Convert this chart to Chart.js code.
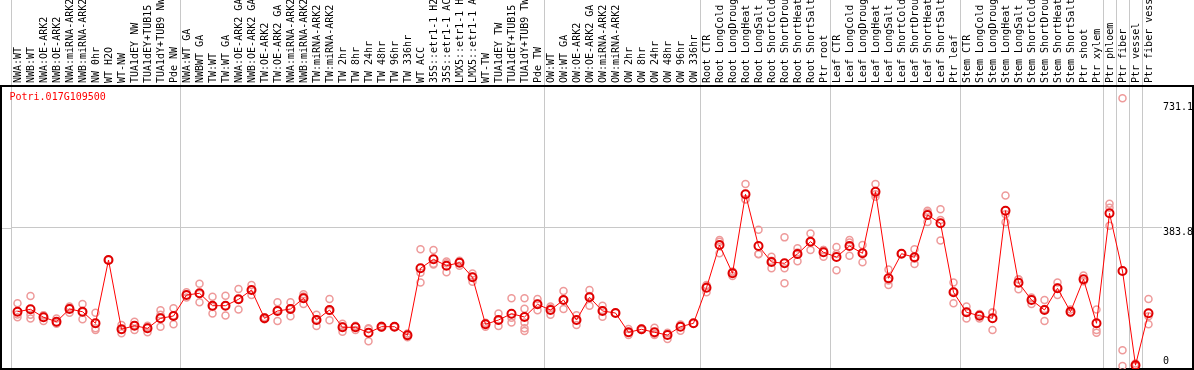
<!DOCTYPE html>
<html>
<head>
<meta charset="utf-8">
<script src="https://cdn.jsdelivr.net/npm/chart.js@4.4.1/dist/chart.umd.min.js"></script>
<style>
  html, body { margin: 0; padding: 0; background: #fff; }
  #wrap { width: 1194px; height: 370px; position: relative; }
</style>
</head>
<body>
<div id="wrap"><canvas id="exprPlot"></canvas></div>
<script>
const geneName = 'Potri.017G109500';

const sampleLabels = [
    'NWA:WT', 'NWB:WT', 'NWA:OE-ARK2', 'NWB:OE-ARK2', 'NWA:miRNA-ARK2', 'NWB:miRNA-ARK2',
    'NW 0hr', 'WT H2O', 'WT-NW', 'TUA1dEY NW', 'TUA1dEY+TUB15 NW', 'TUA1dY+TUB9 NW', 'Pde NW',
    'NWA:WT GA', 'NWBWT GA', 'TW:WT', 'TW:WT GA', 'NWA:OE-ARK2 GA', 'NWB:OE-ARK2 GA',
    'TW:OE-ARK2', 'TW:OE-ARK2 GA', 'NWA:miRNA-ARK2', 'NWB:miRNA-ARK2', 'TW:miRNA-ARK2', 'TW:miRNA-ARK2',
    'TW 2hr', 'TW 8hr', 'TW 24hr', 'TW 48hr', 'TW 96hr', 'TW 336hr', 'WT ACC',
    '35S::etr1-1 H2O', '35S::etr1-1 ACC', 'LMX5::etr1-1 H2O', 'LMX5::etr1-1 ACC',
    'WT-TW', 'TUA1dEY TW', 'TUA1dEY+TUB15 TW', 'TUA1dY+TUB9 TW', 'Pde TW',
    'OW:WT', 'OW:WT GA', 'OW:OE-ARK2', 'OW:OE-ARK2 GA', 'OW:miRNA-ARK2', 'OW:miRNA-ARK2',
    'OW 2hr', 'OW 8hr', 'OW 24hr', 'OW 48hr', 'OW 96hr', 'OW 336hr',
    'Root CTR', 'Root LongCold', 'Root LongDrought', 'Root LongHeat', 'Root LongSalt',
    'Root ShortCold', 'Root ShortDrought', 'Root ShortHeat', 'Root ShortSalt', 'Ptr root',
    'Leaf CTR', 'Leaf LongCold', 'Leaf LongDrought', 'Leaf LongHeat', 'Leaf LongSalt',
    'Leaf ShortCold', 'Leaf ShortDrought', 'Leaf ShortHeat', 'Leaf ShortSalt', 'Ptr leaf',
    'Stem CTR', 'Stem LongCold', 'Stem LongDrought', 'Stem LongHeat', 'Stem LongSalt',
    'Stem ShortCold', 'Stem ShortDrought', 'Stem ShortHeat', 'Stem ShortSalt', 'Ptr shoot',
    'Ptr xylem', 'Ptr phloem', 'Ptr fiber', 'Ptr vessel', 'Ptr fiber vessel'
];

// mean expression per sample
const meanValues = [
    150.7, 157.4, 135.2, 123.0, 158.2, 150.7, 118.5, 294.2, 101.9, 111.9, 104.6, 132.4, 138.8,
    197.1, 201.8, 167.4, 167.4, 185.1, 210.9, 132.4, 152.7, 158.2, 187.9, 127.7, 155.4, 107.4, 107.4,
    92.4, 109.1, 109.1, 85.2, 271.2, 296.1, 278.4, 286.7, 246.2, 115.7, 127.7, 145.2, 136.0, 171.2,
    155.4, 183.2, 127.7, 190.7, 152.7, 147.1, 93.5, 101.9, 93.5, 86.0, 109.1, 118.5,
    217.3, 335.8, 257.3, 476.6, 333.1, 288.7, 285.0, 310.9, 345.0, 315.6,
    302.5, 333.1, 312.8, 483.8, 243.4, 311.7, 301.7, 419.1, 396.1, 204.6,
    149.0, 139.6, 132.4, 431.0, 231.2, 183.2, 155.4, 215.7, 150.7, 240.6, 118.5,
    423.8, 263.7, 2.3, 146.3
];

// replicate values per sample
const replicateValues = [
    [174, 135, 143], [194, 142, 132], [125, 140, 141], [132, 117, 120], [165, 148, 162],
    [172, 130, 150], [148, 105, 100], [294], [114, 91, 101], [123, 100, 113],
    [112, 94, 108], [155, 142, 109], [160, 116, 140],
    [205, 197, 190], [228, 177, 200], [192, 146, 164], [195, 140, 167], [214, 157, 185],
    [225, 197, 211], [132, 130, 135], [177, 125, 156], [177, 138, 160], [199, 172, 193],
    [142, 111, 130], [186, 127, 153], [117, 95, 110], [110, 100, 112], [105, 69, 103],
    [109, 112, 106], [109, 110, 108], [80, 86, 90], [324, 259, 232], [322, 282, 284],
    [290, 260, 285], [278, 290, 292], [257, 234, 248], [109, 118, 120], [146, 111, 126],
    [188, 134, 121], [188, 159, 97, 121, 105], [186, 155, 173],
    [165, 142, 160], [208, 158, 183], [141, 114, 128], [211, 167, 194], [167, 137, 155],
    [147], [103, 86, 92], [102, 104, 100], [106, 86, 89], [75, 92, 91], [98, 114, 115], [118],
    [225, 205, 222], [350, 313, 345], [250, 262, 260], [505, 463, 462], [378, 310, 311],
    [303, 271, 292], [357, 271, 230], [327, 291, 315], [368, 322, 345], [322, 303, 322],
    [330, 266, 311], [350, 306, 343], [336, 288, 315], [505, 470, 477], [268, 225, 237],
    [312], [324, 283, 298], [431, 400, 426], [435, 405, 348], [232, 174, 207],
    [165, 132, 150], [132, 143, 144], [149, 100, 148], [473, 399, 421], [241, 213, 240],
    [172, 190, 188], [183, 125, 158], [232, 197, 218], [157, 148, 147], [251, 236, 235],
    [157, 100, 92],
    [450, 439, 389], [743, 44, 0], [7, 0, 0], [186, 116, 138]
];

const yTickValues = [0, 383.8, 731.1];
// sample indexes where a grey group separator is drawn
const groupBreaks = [0, 13, 41, 53, 63, 73, 84, 85, 86, 87, 88];

const monoFont = 'DejaVu Sans Mono';

// one dataset per replicate slot
const maxReps = Math.max(...replicateValues.map(r => r.length));
const repDatasets = [];
for (let k = 0; k < maxReps; k++) {
    repDatasets.push({
        label: 'rep' + (k + 1),
        data: replicateValues.map(r => (r[k] !== undefined ? r[k] : null)),
        showLine: false,
        pointRadius: 3.5,
        pointBorderWidth: 1.5,
        pointBorderColor: '#ee9a9a',
        pointBackgroundColor: 'rgba(0,0,0,0)',
        order: 2
    });
}

const framePlugin = {
    id: 'frame',
    beforeDatasetsDraw(chart) {
        const { ctx, chartArea, width } = chart;
        const yGrid = Math.round(chart.scales.y.getPixelForValue(383.8)) + 0.5;
        ctx.save();
        ctx.strokeStyle = '#c8c8c8';
        ctx.lineWidth = 1;
        ctx.beginPath();
        ctx.moveTo(1, yGrid);
        ctx.lineTo(chartArea.left, yGrid);
        ctx.stroke();
        ctx.strokeStyle = '#000';
        ctx.lineWidth = 2;
        ctx.strokeRect(1, chartArea.top, width - 2, chartArea.bottom - chartArea.top);
        ctx.restore();
    },
    afterDraw(chart) {
        const { ctx, chartArea } = chart;
        ctx.save();
        ctx.fillStyle = '#ff0000';
        ctx.font = '10px ' + monoFont;
        ctx.textBaseline = 'middle';
        ctx.fillText(geneName, 9.5, chartArea.top + 11);
        ctx.restore();
    }
};

const ctx = document.getElementById('exprPlot').getContext('2d');
new Chart(ctx, {
    type: 'line',
    data: {
        labels: sampleLabels,
        datasets: [
            {
                label: geneName,
                data: meanValues,
                borderColor: '#ff0000',
                borderWidth: 1,
                tension: 0,
                pointRadius: 4,
                pointBorderWidth: 2,
                pointBorderColor: '#e00000',
                pointBackgroundColor: 'rgba(0,0,0,0)',
                order: 1
            },
            ...repDatasets
        ]
    },
    options: {
        responsive: true,
        maintainAspectRatio: false,
        animation: false,
        layout: { autoPadding: false, padding: { left: 11, right: 1, top: 0, bottom: 1 } },
        plugins: {
            legend: { display: false },
            tooltip: { enabled: false }
        },
        scales: {
            x: {
                position: 'top',
                offset: true,
                border: { display: false },
                grid: {
                    offset: true,
                    drawTicks: true,
                    tickLength: 86,
                    lineWidth: 1,
                    color: c => (groupBreaks.includes(c.index) ? '#c8c8c8' : 'rgba(0,0,0,0)')
                },
                ticks: {
                    autoSkip: false,
                    minRotation: 90,
                    maxRotation: 90,
                    padding: -83,
                    labelOffset: 12.5,
                    color: '#000',
                    font: { family: monoFont, size: 10 }
                },
                afterFit: scale => {
                    scale.height = 86;
                    scale.paddingLeft = 0;
                    scale.paddingRight = 0;
                }
            },
            y: {
                position: 'right',
                min: -8.3,
                max: 777.1,
                border: { display: false },
                afterBuildTicks: scale => {
                    scale.ticks = yTickValues.map(v => ({ value: v }));
                },
                grid: {
                    tickLength: 7,
                    color: c => (c.tick && c.tick.value === 383.8 ? '#c8c8c8' : 'rgba(0,0,0,0)')
                },
                ticks: {
                    padding: 1,
                    color: '#000',
                    font: { family: monoFont, size: 10, lineHeight: 1 },
                    callback: v => (v === 0 ? ['0', ''] : ['', String(v)])
                },
                afterFit: scale => {
                    scale.width = 38;
                    scale.paddingTop = 0;
                    scale.paddingBottom = 0;
                }
            }
        }
    },
    plugins: [framePlugin]
});
</script>
</body>
</html>
